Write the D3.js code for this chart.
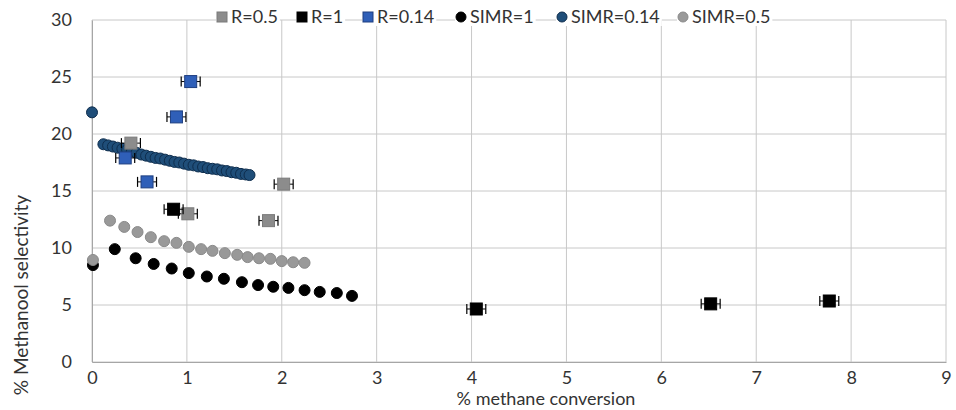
<!DOCTYPE html>
<html>
<head>
<meta charset="utf-8">
<script src="https://cdn.jsdelivr.net/npm/d3@7"></script>
<style>
  body { margin: 0; background: #fff; }
  text { font-family: Lato, "Liberation Sans", sans-serif; fill: #333; }
</style>
</head>
<body>
<svg width="956" height="410"></svg>
<script>
// measured points (x = % methane conversion, y = % methanol selectivity)
const r05X = [0.41, 1.01, 1.86, 2.02];
const r05Y = [19.2, 13.0, 12.4, 15.6];
const r1X = [0.86, 4.05, 6.52, 7.77];
const r1Y = [13.4, 4.65, 5.1, 5.35];
const r014X = [1.04, 0.89, 0.35, 0.58];
const r014Y = [24.6, 21.5, 17.9, 15.8];

// simulation curves
const simr1X = [0.01, 0.24, 0.46, 0.65, 0.84, 1.02, 1.21, 1.39, 1.58, 1.75, 1.91, 2.07, 2.24, 2.40, 2.58, 2.74];
const simr1Y = [8.5, 9.9, 9.1, 8.6, 8.2, 7.8, 7.5, 7.3, 7.0, 6.75, 6.6, 6.5, 6.3, 6.15, 6.05, 5.8];
const simr014X = [0.0, 0.12, 0.17, 0.22, 0.27, 0.32, 0.37, 0.42, 0.47, 0.52, 0.57, 0.62, 0.67, 0.72, 0.77, 0.82, 0.87,
    0.92, 0.97, 1.02, 1.07, 1.12, 1.17, 1.22, 1.27, 1.32, 1.37, 1.42, 1.47, 1.52, 1.57, 1.62, 1.66];
const simr014Y = [21.9, 19.1, 19.0, 18.9, 18.8, 18.7, 18.6, 18.45, 18.35, 18.2, 18.1, 18.0, 17.9, 17.85, 17.75, 17.65, 17.55,
    17.5, 17.4, 17.3, 17.25, 17.15, 17.1, 17.0, 16.95, 16.9, 16.8, 16.75, 16.65, 16.6, 16.5, 16.45, 16.4];
const simr05X = [0.01, 0.19, 0.34, 0.48, 0.62, 0.76, 0.89, 1.02, 1.15, 1.27, 1.40, 1.53, 1.64, 1.76, 1.88, 2.00, 2.12, 2.24];
const simr05Y = [8.95, 12.4, 11.85, 11.4, 10.95, 10.6, 10.45, 10.1, 9.9, 9.75, 9.55, 9.4, 9.2, 9.1, 9.05, 8.85, 8.75, 8.7];

const xErr = 0.1;
const xTicks = [0, 1, 2, 3, 4, 5, 6, 7, 8, 9];
const yTicks = [0, 5, 10, 15, 20, 25, 30];

const svg = d3.select('svg');
const margin = {left: 92, right: 10, top: 20, bottom: 48};
const width = +svg.attr('width');
const height = +svg.attr('height');

const x = d3.scaleLinear().domain([0, 9]).range([margin.left, width - margin.right]);
const y = d3.scaleLinear().domain([0, 30]).range([height - margin.bottom, margin.top]);

const zip = (xs, ys) => xs.map((v, i) => ({x: v, y: ys[i]}));

// grid
const grid = svg.append('g').attr('class', 'grid');
grid.selectAll('line.v').data(xTicks).enter().append('line')
    .attr('x1', d => x(d)).attr('x2', d => x(d))
    .attr('y1', y(30)).attr('y2', y(0))
    .attr('stroke', '#c8c8c8').attr('stroke-width', 1);
grid.selectAll('line.h').data(yTicks).enter().append('line')
    .attr('x1', x(0)).attr('x2', x(9))
    .attr('y1', d => y(d)).attr('y2', d => y(d))
    .attr('stroke', '#c8c8c8').attr('stroke-width', 1);

// axes
const xAxis = svg.append('g')
    .attr('transform', `translate(0,${y(0)})`)
    .call(d3.axisBottom(x).tickValues(xTicks).tickSize(0).tickPadding(9).tickFormat(d3.format('d')));
const yAxis = svg.append('g')
    .attr('transform', `translate(${x(0)},0)`)
    .call(d3.axisLeft(y).tickValues(yTicks).tickSize(0).tickPadding(20).tickFormat(d3.format('d')));
[xAxis, yAxis].forEach(a => {
    a.select('.domain').attr('stroke', '#a6a6a6');
    a.selectAll('text').attr('font-size', 18).attr('fill', '#333')
        .style('font-family', 'Lato, "Liberation Sans", sans-serif');
});

svg.append('text')
    .attr('x', 546).attr('y', 405)
    .attr('text-anchor', 'middle')
    .attr('font-size', 18)
    .text('% methane conversion');
svg.append('text')
    .attr('transform', 'translate(28,295) rotate(-90)')
    .attr('text-anchor', 'middle')
    .attr('font-size', 19)
    .text('% Methanool selectivity');

// simulated series
const circleSeries = [
    {data: zip(simr1X, simr1Y), fill: '#000', stroke: '#000'},
    {data: zip(simr05X, simr05Y), fill: '#999', stroke: '#8a8a8a'},
    {data: zip(simr014X, simr014Y), fill: '#1f4e79', stroke: '#0e2d4d'}
];
circleSeries.forEach(s => {
    svg.append('g').selectAll('circle').data(s.data).enter().append('circle')
        .attr('cx', d => x(d.x)).attr('cy', d => y(d.y)).attr('r', 5.5)
        .attr('fill', s.fill).attr('stroke', s.stroke).attr('stroke-width', 1);
});

// experimental series with x error bars
const squareSeries = [
    {data: zip(r05X, r05Y), fill: '#8c8c8c', stroke: '#7a7a7a'},
    {data: zip(r1X, r1Y), fill: '#000', stroke: '#000'},
    {data: zip(r014X, r014Y), fill: '#2f5fb8', stroke: '#1f3f80'}
];
squareSeries.forEach(s => {
    const g = svg.append('g');
    g.selectAll('g').data(s.data).enter().append('g').each(function(d) {
        const gg = d3.select(this);
        const cx = x(d.x), cy = y(d.y);
        const x0 = x(d.x - xErr), x1 = x(d.x + xErr);
        gg.append('line').attr('x1', x0).attr('x2', x1).attr('y1', cy).attr('y2', cy)
            .attr('stroke', '#000').attr('stroke-width', 1);
        [x0, x1].forEach(cxp => gg.append('line')
            .attr('x1', cxp).attr('x2', cxp).attr('y1', cy - 5).attr('y2', cy + 5)
            .attr('stroke', '#000').attr('stroke-width', 1.2));
        gg.append('rect')
            .attr('x', cx - 6).attr('y', cy - 6).attr('width', 12).attr('height', 12)
            .attr('fill', s.fill).attr('stroke', s.stroke).attr('stroke-width', 1);
    });
});

// legend
const legendItems = [
    {label: 'R=0.5', shape: 'square', fill: '#8c8c8c', stroke: '#7a7a7a', x: 222},
    {label: 'R=1', shape: 'square', fill: '#000', stroke: '#000', x: 302},
    {label: 'R=0.14', shape: 'square', fill: '#2f5fb8', stroke: '#1f3f80', x: 368},
    {label: 'SIMR=1', shape: 'circle', fill: '#000', stroke: '#000', x: 461},
    {label: 'SIMR=0.14', shape: 'circle', fill: '#1f4e79', stroke: '#0e2d4d', x: 562},
    {label: 'SIMR=0.5', shape: 'circle', fill: '#999', stroke: '#8a8a8a', x: 683}
];
const ly = 17;
const legend = svg.append('g').attr('class', 'legend');
legendItems.forEach(item => {
    const gg = legend.append('g');
    const t = gg.append('text')
        .attr('x', item.x + 9).attr('y', ly + 6)
        .attr('font-size', 18).attr('fill', '#333')
        .text(item.label);
    const w = t.node().getComputedTextLength();
    gg.insert('rect', 'text')
        .attr('x', item.x - 6).attr('y', ly - 9)
        .attr('width', w + 17).attr('height', 18)
        .attr('fill', '#fff');
    if (item.shape === 'square') {
        gg.append('rect').attr('x', item.x - 5).attr('y', ly - 5).attr('width', 10).attr('height', 10)
            .attr('fill', item.fill).attr('stroke', item.stroke);
    } else {
        gg.append('circle').attr('cx', item.x).attr('cy', ly).attr('r', 5)
            .attr('fill', item.fill).attr('stroke', item.stroke);
    }
});
</script>
</body>
</html>
